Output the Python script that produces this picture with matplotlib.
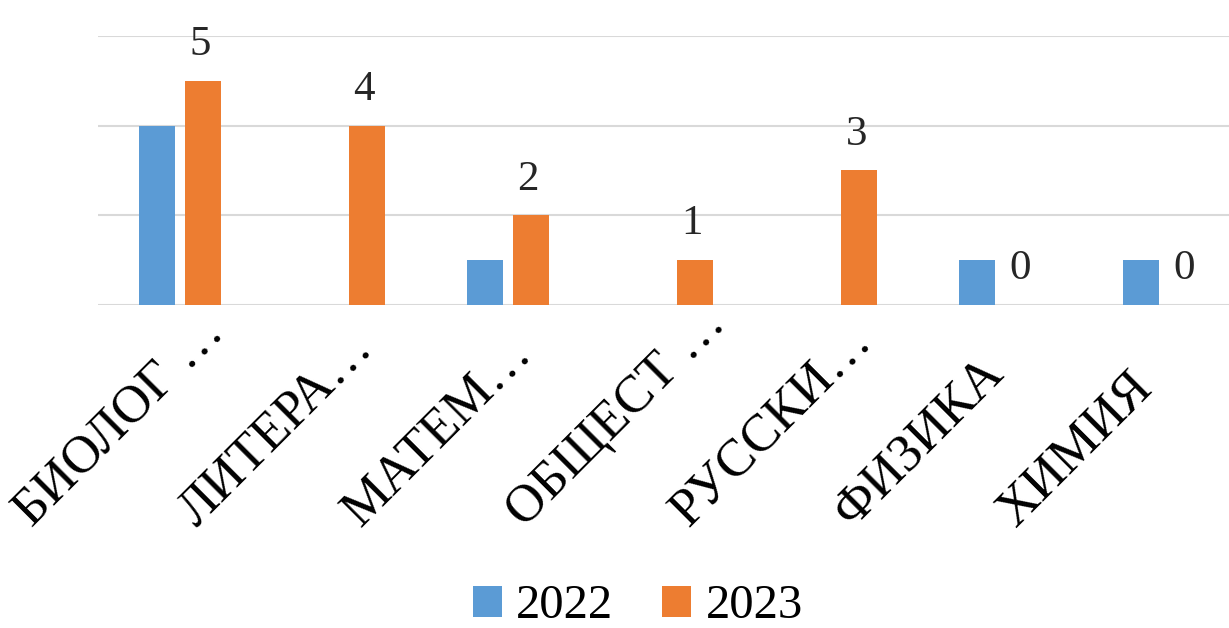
import matplotlib
matplotlib.use("Agg")
import matplotlib.pyplot as plt
import matplotlib.transforms as mtransforms
import numpy as np

categories = ["БИОЛОГ …", "ЛИТЕРА…", "МАТЕМ…", "ОБЩЕСТ …", "РУССКИ…", "ФИЗИКА", "ХИМИЯ"]
values_2022 = [4, 0, 1, 0, 0, 1, 1]
values_2023 = [5, 4, 2, 1, 3, 0, 0]
series_names = ["2022", "2023"]
colors = ["#5b9bd5", "#ed7d31"]

plt.rcParams['font.family'] = ['Liberation Serif', 'DejaVu Serif']

W, H = 1229, 628
fig = plt.figure(figsize=(W / 100, H / 100), dpi=100)
left = 98 / W
width = 1148 / W
bottom = (H - 305) / H
top = (H - 36) / H
ax = fig.add_axes([left, bottom, width, top - bottom])

x = np.arange(len(categories))
bw = 0.215
off = 0.14
ax.bar(x - off, values_2022, bw, color=colors[0], label=series_names[0], zorder=3)
ax.bar(x + off, values_2023, bw, color=colors[1], label=series_names[1], zorder=3)

for xi, v in zip(x, values_2023):
    ax.annotate(str(v), (xi + off, v), xytext=(-2, 12), textcoords="offset points",
                ha="center", va="bottom", fontsize=31, color="#262626")

ax.set_xlim(-0.5, len(categories) - 0.5)
ax.set_ylim(0, 6)
ax.set_yticks([0, 2, 4, 6])
ax.yaxis.grid(True, color="#d9d9d9", linewidth=1.5, zorder=0)
ax.tick_params(axis="y", length=0, labelleft=False)
ax.tick_params(axis="x", length=0, labelbottom=False)
for s in ["top", "right", "left", "bottom"]:
    ax.spines[s].set_visible(False)
ax.set_xticks(x)

# rotated category labels: start point fixed relative to each tick
offset = mtransforms.ScaledTranslation(-1.48, -2.23, fig.dpi_scale_trans)
trans = ax.get_xaxis_transform() + offset
for xi, lab in zip(x, categories):
    ax.text(xi, 0, lab, transform=trans, rotation=45, rotation_mode="anchor",
            ha="left", va="baseline", fontsize=38, color="black", clip_on=False)

fig.legend(loc="lower center", bbox_to_anchor=(0.519, -0.07), ncol=2, frameon=False,
           fontsize=35, handlelength=0.6, handleheight=0.6, handletextpad=0.3,
           columnspacing=1.0)

fig.savefig("out.png", dpi=100)
